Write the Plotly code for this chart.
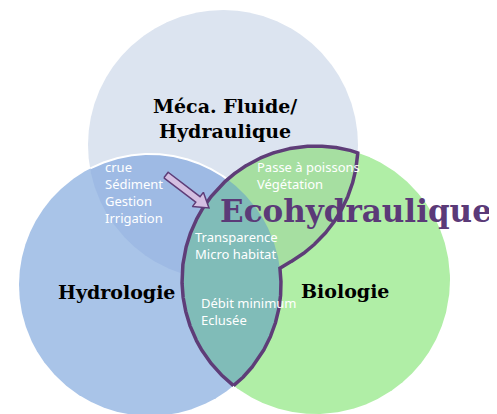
"""Diagramme de Venn — Ecohydraulique (Méca. Fluide / Hydrologie / Biologie)."""
import numpy as np
import plotly.graph_objects as go

# cercles : Méca. Fluide (haut), Hydrologie (gauche), Biologie (droite)
circle_labels = ["Méca. Fluide/<br>Hydraulique", "Hydrologie", "Biologie"]
circle_cx = [223, 150, 316]
circle_cy = [145, 285, 280]
circle_r = [135, 131, 134]
circle_colors = ["#dce4f0", "#a9c4e8", "#b0eea6"]
label_x = [225, 116, 345]
label_y = [118, 292, 291]

# zones de recouvrement (i, j) -> couleur
overlaps = [(0, 1), (2, 0), (2, 1)]
overlap_colors = ["#9ebae4", "#a6dfa1", "#80bcb8"]

# contenus des zones
zone_texts = [
    "crue<br>Sédiment<br>Gestion<br>Irrigation",
    "Passe à poissons<br>Végétation",
    "Transparence<br>Micro habitat",
    "Débit minimum<br>Eclusée",
]
zone_x = [103, 255, 193, 199]
zone_y = [192, 175, 245, 311]

title_text = "Ecohydraulique"
title_x, title_y = 356, 211
arrow_start = (166, 175)
arrow_end = (209, 208)

# la page décale la figure de 8 px (marge du body)
OFF = 8
W, H = 497, 414

N = 2880
theta = np.linspace(0, 2 * np.pi, N, endpoint=False)


def ring(i):
    return (circle_cx[i] + circle_r[i] * np.cos(theta),
            circle_cy[i] + circle_r[i] * np.sin(theta))


def inside(x, y, j):
    return (x - circle_cx[j]) ** 2 + (y - circle_cy[j]) ** 2 <= circle_r[j] ** 2


def arc(i, mask_fn):
    x, y = ring(i)
    m = mask_fn(x, y)
    if m.all():
        return x, y
    k = int(np.argmin(m))  # premier point hors masque
    x, y, m = np.roll(x, -k), np.roll(y, -k), np.roll(m, -k)
    return x[m], y[m]


def lens(i, j):
    xa, ya = arc(i, lambda x, y: inside(x, y, j))
    xb, yb = arc(j, lambda x, y: inside(x, y, i))
    return np.r_[xa, xb, xa[:1]], np.r_[ya, yb, ya[:1]]


fig = go.Figure()


def fill(x, y, color):
    fig.add_trace(go.Scatter(x=x, y=y, fill="toself", fillcolor=color, mode="lines",
                             line=dict(width=0), hoverinfo="skip", showlegend=False))


# cercles et recouvrements
for i in range(2):
    x, y = ring(i)
    fill(np.r_[x, x[:1]], np.r_[y, y[:1]], circle_colors[i])
xl, yl = lens(*overlaps[0])
fill(xl, yl, overlap_colors[0])
# liseré blanc du cercle Hydrologie
xw, yw = arc(1, lambda x, y: inside(x, y, 0) & ~inside(x, y, 2))
fig.add_trace(go.Scatter(x=xw, y=yw, mode="lines", line=dict(color="white", width=2),
                         hoverinfo="skip", showlegend=False))
x, y = ring(2)
fill(np.r_[x, x[:1]], np.r_[y, y[:1]], circle_colors[2])
for (i, j), c in zip(overlaps[1:], overlap_colors[1:]):
    xl, yl = lens(i, j)
    fill(xl, yl, c)

# contour violet : Biologie ∩ (Méca ∪ Hydrologie)
segs = [
    arc(2, lambda x, y: inside(x, y, 0) | inside(x, y, 1)),
    arc(0, lambda x, y: inside(x, y, 2) & ~inside(x, y, 1)),
    arc(1, lambda x, y: inside(x, y, 2) & ~inside(x, y, 0)),
]
chain = [segs.pop(0)]
while segs:
    ex, ey = chain[-1][0][-1], chain[-1][1][-1]
    k = min(range(len(segs)), key=lambda s: (segs[s][0][0] - ex) ** 2 + (segs[s][1][0] - ey) ** 2)
    chain.append(segs.pop(k))
ox = np.concatenate([c[0] for c in chain])
oy = np.concatenate([c[1] for c in chain])
fig.add_trace(go.Scatter(x=np.r_[ox, ox[:1]], y=np.r_[oy, oy[:1]], mode="lines",
                         line=dict(color="#5e3d78", width=3.5), hoverinfo="skip",
                         showlegend=False))

# flèche
sx, sy = arrow_start
ex, ey = arrow_end
L = np.hypot(ex - sx, ey - sy)
ux, uy = (ex - sx) / L, (ey - sy) / L
px, py = -uy, ux
hw, sw, hl = 9, 3.5, 14
bx, by = ex - ux * hl, ey - uy * hl
ax = [sx + px * sw, bx + px * sw, bx + px * hw, ex, bx - px * hw, bx - px * sw, sx - px * sw, sx + px * sw]
ay = [sy + py * sw, by + py * sw, by + py * hw, ey, by - py * hw, by - py * sw, sy - py * sw, sy + py * sw]
fig.add_trace(go.Scatter(x=ax, y=ay, fill="toself", fillcolor="#d4bfe2", mode="lines",
                         line=dict(color="#5e3d78", width=1.5), hoverinfo="skip",
                         showlegend=False))

serif = "DejaVu Serif"
for lab, x, y in zip(circle_labels, label_x, label_y):
    fig.add_annotation(x=x, y=y, text=f"<b>{lab}</b>", showarrow=False,
                       font=dict(family=serif, size=19, color="black"),
                       align="center")
for t, x, y in zip(zone_texts, zone_x, zone_y):
    fig.add_annotation(x=x, y=y, text=t, showarrow=False, xanchor="left", align="left",
                       font=dict(family="Noto Sans", size=13, color="white"))
fig.add_annotation(x=title_x, y=title_y, text=f"<b>{title_text}</b>", showarrow=False,
                   font=dict(family=serif, size=31, color="#5b3a78"))

fig.update_xaxes(range=[OFF, W], visible=False)
fig.update_yaxes(range=[H, OFF], visible=False)
fig.update_layout(width=W - OFF, height=H - OFF, margin=dict(l=0, r=0, t=0, b=0),
                  plot_bgcolor="white", paper_bgcolor="white")
fig.write_html("out.html")
